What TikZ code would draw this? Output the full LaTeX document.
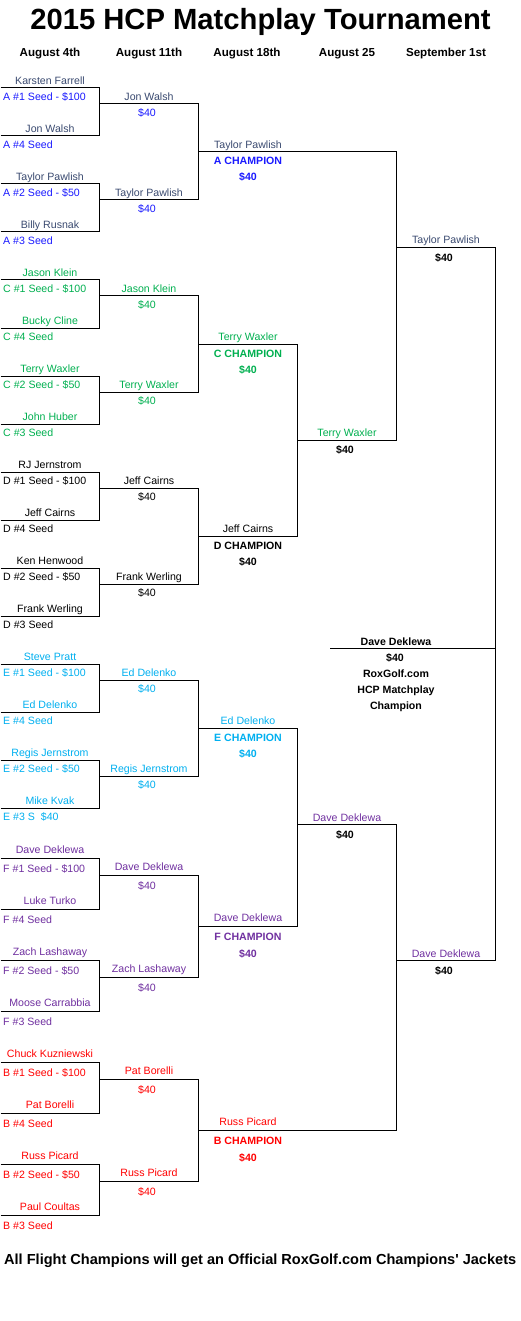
\documentclass[tikz,border=0pt]{standalone}
\usepackage{fontspec}
\setmainfont{Liberation Sans}
\newfontfamily\plainsans{Liberation Sans}
\definecolor{aname}{HTML}{3A4A70}
\definecolor{ablue}{HTML}{1A1AFF}
\definecolor{cgreen}{HTML}{00B050}
\definecolor{eblue}{HTML}{00B0F0}
\definecolor{fpurple}{HTML}{7030A0}
\definecolor{bred}{HTML}{FF0000}
\def\myno{3.5}\def\myso{12.5}\def\mytt{13}\def\mymm{29}
% first-round entry: id, y, name, seed, name colour, seed colour
\newcommand\ent[6]{%
  \draw[bline] (0.5,#2) -- (99.5,#2);
  \node[txt,text=#5] (#1) at (50,#2-\myno) {#3};
  \node[ltxt,text=#6] (#1s) at (3,#2+\myso) {#4};}
% second round: id, ytop, ybot, ymid, name, name colour, money colour
\newcommand\rtwo[7]{%
  \draw[bline] (99.5,#2) -- (99.5,#3);
  \draw[bline] (99.5,#4) -- (198.5,#4);
  \node[txt,text=#6] (#1) at (149,#4-\myno) {#5};
  \node[txt,text=#7] (#1m) at (147,#4+\myso) {\$40};}
% third round: id, ytop, ybot, ymid, xright, name, title, name colour, title colour
\newcommand\rthree[9]{%
  \draw[bline] (198.5,#2) -- (198.5,#3);
  \draw[bline] (198.5,#4) -- (#5,#4);
  \node[txt,text=#8] (#1) at (248,#4-\myno) {#6};
  \node[btxt,text=#9] (#1t) at (248,#4+\mytt) {#7};
  \node[btxt,text=#9] (#1m) at (248,#4+\mymm) {\$40};}
\begin{document}
\begin{tikzpicture}[x=1pt,y=-1pt,
  bline/.style={line width=1pt},
  txt/.style={font=\fontsize{10.6}{12}\selectfont, anchor=base, inner sep=0pt},
  ltxt/.style={txt, anchor=base west},
  btxt/.style={txt, font=\fontsize{10.6}{12}\selectfont\bfseries},
  head/.style={txt, font=\fontsize{11.6}{13}\selectfont\bfseries},
]
\useasboundingbox[fill=white] (0,0) rectangle (521,1321);

\node[txt,font=\fontsize{29.2}{32}\selectfont\bfseries] (title) at (260.5,29.3) {2015 HCP Matchplay Tournament};
\node[head] (h1) at (50,57) {August 4th};
\node[head] (h2) at (149,57) {August 11th};
\node[head] (h3) at (247,57) {August 18th};
\node[head] (h4) at (347,57) {August 25};
\node[head] (h5) at (446,57) {September 1st};

% ---- A ----
\ent{a1}{88}{Karsten Farrell}{A \#1 Seed - \$100}{aname}{ablue}
\ent{a2}{136}{Jon Walsh}{A \#4 Seed}{aname}{ablue}
\ent{a3}{184}{Taylor Pawlish}{A \#2 Seed - \$50}{aname}{ablue}
\ent{a4}{232}{Billy Rusnak}{A \#3 Seed}{aname}{ablue}
\rtwo{ar1}{88}{136}{104}{Jon Walsh}{aname}{ablue}
\rtwo{ar2}{184}{232}{200}{Taylor Pawlish}{aname}{ablue}
\rthree{ac}{104}{200}{152}{396.5}{Taylor Pawlish}{A CHAMPION}{aname}{ablue}

% ---- C ----
\ent{c1}{280}{Jason Klein}{C \#1 Seed - \$100}{cgreen}{cgreen}
\ent{c2}{328}{Bucky Cline}{C \#4 Seed}{cgreen}{cgreen}
\ent{c3}{376}{Terry Waxler}{C \#2 Seed - \$50}{cgreen}{cgreen}
\ent{c4}{424}{John Huber}{C \#3 Seed}{cgreen}{cgreen}
\rtwo{cr1}{280}{328}{296}{Jason Klein}{cgreen}{cgreen}
\rtwo{cr2}{376}{424}{392}{Terry Waxler}{cgreen}{cgreen}
\rthree{cc}{296}{392}{344}{297.5}{Terry Waxler}{C CHAMPION}{cgreen}{cgreen}

% ---- D ----
\ent{d1}{472}{RJ Jernstrom}{D \#1 Seed - \$100}{black}{black}
\ent{d2}{520}{Jeff Cairns}{D \#4 Seed}{black}{black}
\ent{d3}{568}{Ken Henwood}{D \#2 Seed - \$50}{black}{black}
\ent{d4}{616}{Frank Werling}{D \#3 Seed}{black}{black}
\rtwo{dr1}{472}{520}{488}{Jeff Cairns}{black}{black}
\rtwo{dr2}{568}{616}{584}{Frank Werling}{black}{black}
\rthree{dc}{488}{584}{536}{297.5}{Jeff Cairns}{D CHAMPION}{black}{black}

% ---- E ----
\ent{e1}{664}{Steve Pratt}{E \#1 Seed - \$100}{eblue}{eblue}
\ent{e2}{712}{Ed Delenko}{E \#4 Seed}{eblue}{eblue}
\ent{e3}{760}{Regis Jernstrom}{E \#2 Seed - \$50}{eblue}{eblue}
\ent{e4}{808}{Mike Kvak}{E \#3 S\ \ \$40}{eblue}{eblue}
\rtwo{er1}{664}{712}{680}{Ed Delenko}{eblue}{eblue}
\rtwo{er2}{760}{808}{776}{Regis Jernstrom}{eblue}{eblue}
\rthree{ec}{680}{776}{728}{297.5}{Ed Delenko}{E CHAMPION}{eblue}{eblue}

\def\myno{5}\def\myso{14}\def\mytt{14}\def\mymm{31}
% ---- F ----
\ent{f1}{858}{Dave Deklewa}{F \#1 Seed - \$100}{fpurple}{fpurple}
\ent{f2}{909}{Luke Turko}{F \#4 Seed}{fpurple}{fpurple}
\ent{f3}{960}{Zach Lashaway}{F \#2 Seed - \$50}{fpurple}{fpurple}
\ent{f4}{1011}{Moose Carrabbia}{F \#3 Seed}{fpurple}{fpurple}
\rtwo{fr1}{858}{909}{875}{Dave Deklewa}{fpurple}{fpurple}
\rtwo{fr2}{960}{1011}{977}{Zach Lashaway}{fpurple}{fpurple}
\rthree{fc}{875}{977}{926}{297.5}{Dave Deklewa}{F CHAMPION}{fpurple}{fpurple}

% ---- B ----
\ent{b1}{1062}{Chuck Kuzniewski}{B \#1 Seed - \$100}{bred}{bred}
\ent{b2}{1113}{Pat Borelli}{B \#4 Seed}{bred}{bred}
\ent{b3}{1164}{Russ Picard}{B \#2 Seed - \$50}{bred}{bred}
\ent{b4}{1215}{Paul Coultas}{B \#3 Seed}{bred}{bred}
\rtwo{br1}{1062}{1113}{1079}{Pat Borelli}{bred}{bred}
\rtwo{br2}{1164}{1215}{1181}{Russ Picard}{bred}{bred}
\rthree{bc}{1079}{1181}{1130}{396.5}{Russ Picard}{B CHAMPION}{bred}{bred}

% ---- round 4 ----
\draw[bline] (297.5,344) -- (297.5,536);
\draw[bline] (297.5,440) -- (396.5,440);
\node[txt,text=cgreen] (cd) at (347,436.5) {Terry Waxler};
\node[btxt] (cdm) at (345,453) {\$40};

\draw[bline] (297.5,728) -- (297.5,926);
\draw[bline] (297.5,824) -- (396.5,824);
\node[txt,text=fpurple] (ef) at (347,821) {Dave Deklewa};
\node[btxt] (efm) at (345,838) {\$40};

% ---- round 5 ----
\draw[bline] (396.5,152) -- (396.5,440);
\draw[bline] (396.5,248) -- (495.5,248);
\node[txt,text=aname] (top) at (446,244) {Taylor Pawlish};
\node[btxt] (topm) at (444,261.5) {\$40};

\draw[bline] (396.5,824) -- (396.5,1130);
\draw[bline] (396.5,960) -- (495.5,960);
\node[txt,text=fpurple] (bot) at (446,957) {Dave Deklewa};
\node[btxt] (botm) at (444,974) {\$40};

% ---- final ----
\draw[bline] (495.5,248) -- (495.5,960);
\draw[bline] (330,648) -- (495.5,648);
\node[btxt] (champ) at (396,645) {Dave Deklewa};
\node[btxt] (champ1) at (395,661.5) {\$40};
\node[btxt] (champ2) at (396,677) {RoxGolf.com};
\node[btxt] (champ3) at (396,693) {HCP Matchplay};
\node[btxt] (champ4) at (396,709) {Champion};

\node[txt,anchor=base west,font=\plainsans\fontsize{14.55}{17}\selectfont\bfseries] (foot) at (4,1264.3) {All Flight Champions will get an Official RoxGolf.com Champions' Jackets};
\end{tikzpicture}
\end{document}
